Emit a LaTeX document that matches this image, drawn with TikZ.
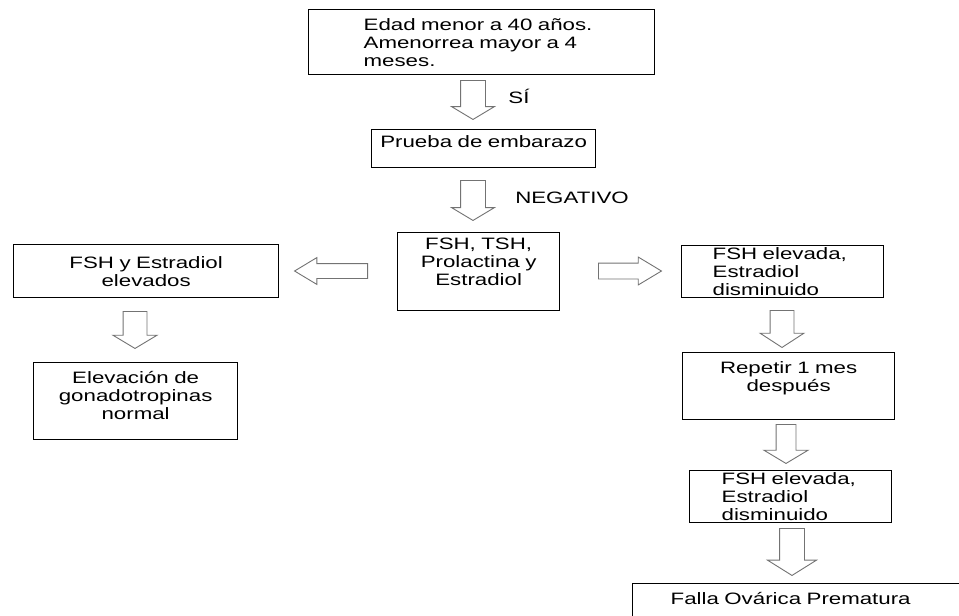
\documentclass[tikz,border=0pt]{standalone}
\usepackage{fontspec}
\setmainfont{Liberation Sans}[FakeStretch=1.35]
\usetikzlibrary{shapes.arrows}

\begin{document}
\begin{tikzpicture}[x=1pt,y=-1pt,
  font=\fontsize{16.5}{18}\selectfont,
  caja/.style={draw=black, line width=1.3pt, rectangle, inner sep=0pt, anchor=north west},
  flecha/.style={single arrow, draw=black!55, line width=0.9pt, fill=white, inner xsep=0pt, anchor=tail},
  baja/.style={flecha, rotate=-90, minimum width=42pt, inner ysep=12pt,
    single arrow head extend=9pt, single arrow tip angle=118, minimum height=39pt},
  lado/.style={flecha, minimum width=26pt, inner ysep=7pt,
    single arrow head extend=6pt, single arrow tip angle=62}]
  \useasboundingbox (0,0) rectangle (959,616);

  % cajas
  \node[caja, minimum width=346pt, minimum height=65pt, text width=236pt, align=left] (edad) at (308,9)
    {Edad menor a 40 años.\\Amenorrea mayor a 4\\meses.};
  \node[caja, minimum width=224pt, minimum height=38pt, text width=214pt, align=center] (prueba) at (371,129)
    {Prueba de embarazo\\[-9pt] \strut};
  \node[caja, minimum width=162pt, minimum height=78pt, text width=150pt, align=center] (hormonas) at (397,232)
    {FSH, TSH,\\Prolactina y\\Estradiol\\[-4pt] \strut};
  \node[caja, minimum width=265pt, minimum height=53pt, text width=240pt, align=center] (elevados) at (13,244)
    {FSH y Estradiol\\elevados};
  \node[caja, minimum width=204pt, minimum height=77pt, text width=190pt, align=center] (normal) at (33,362)
    {Elevación de\\gonadotropinas\\normal\\[-11pt] \strut};
  \node[caja, minimum width=202pt, minimum height=52pt, text width=140pt, align=left] (fsh1) at (681,245)
    {FSH elevada,\\Estradiol\\disminuido};
  \node[caja, minimum width=212pt, minimum height=67pt, text width=190pt, align=center] (repetir) at (682,352)
    {Repetir 1 mes\\después\\[-4pt] \strut};
  \node[caja, minimum width=202pt, minimum height=52pt, text width=138pt, align=left] (fsh2) at (689,470)
    {FSH elevada,\\Estradiol\\disminuido};
  \node[caja, minimum width=360pt, minimum height=53pt, text width=284pt, align=left] (falla) at (632,583)
    {Falla Ovárica Prematura\\ \strut};

  % flechas
  \node[baja] (f1) at (473,80) {};
  \node[baja, minimum height=40pt] (f2) at (473,180) {};
  \node[lado, rotate=180, minimum height=73pt] (fizq) at (368,271) {};
  \node[lado, inner ysep=7.5pt, minimum height=63pt] (fder) at (598,271) {};
  \node[baja, minimum width=43pt, inner ysep=11.5pt, single arrow head extend=10pt, minimum height=37pt] (f3) at (135,311) {};
  \node[baja, minimum width=43pt, inner ysep=11.5pt, single arrow head extend=10pt, single arrow tip angle=114, minimum height=37pt] (f4) at (782,310) {};
  \node[baja, minimum width=43pt, inner ysep=9.5pt, single arrow head extend=12pt, minimum height=39pt] (f5) at (786,424) {};
  \node[baja, minimum width=48pt, single arrow head extend=12pt, single arrow tip angle=116, minimum height=47pt] (f6) at (792,528) {};

  % etiquetas
  \node (si) at (519,96) {SÍ};
  \node (negativo) at (572,198) {NEGATIVO};
\end{tikzpicture}
\end{document}
